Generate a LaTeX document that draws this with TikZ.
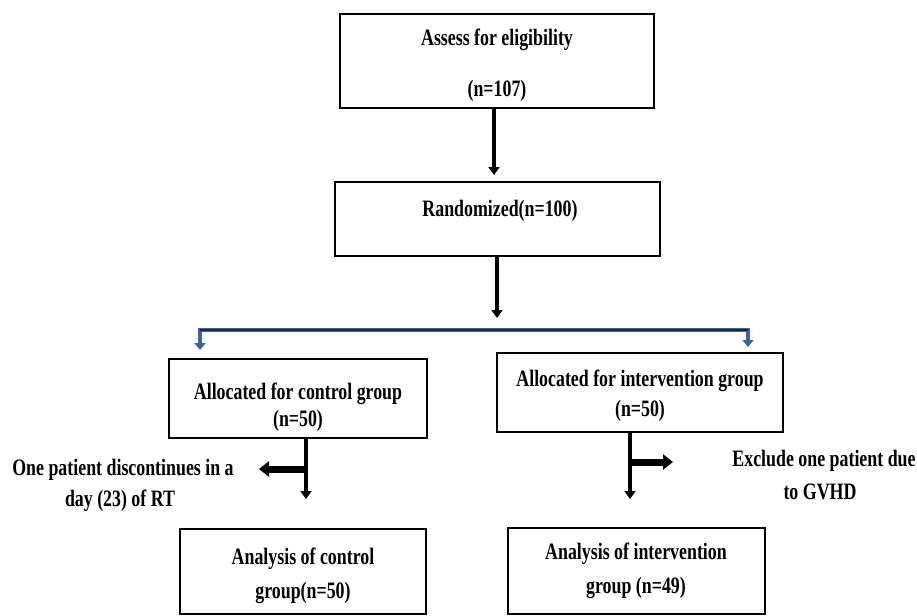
\documentclass[tikz,border=0pt]{standalone}
\usepackage{fontspec}
\setmainfont[FakeStretch=0.76]{Liberation Serif}
\usetikzlibrary{arrows.meta}
\definecolor{splitnavy}{RGB}{26,40,72}
\definecolor{splitblue}{RGB}{62,100,160}
\begin{document}
\begin{tikzpicture}[x=1pt,y=-1pt,
  box/.style={draw,line width=2pt,inner sep=0pt},
  txt/.style={font=\fontsize{23.5}{27}\selectfont\bfseries,inner sep=0pt,text height=16pt,text depth=4pt},
  flow/.style={line width=3.5pt,-{Triangle[width=11pt,length=8pt]}},
  side/.style={line width=7pt,-{Triangle[width=15pt,length=10pt]}},
  split/.style={line width=4.5pt,line join=miter,draw=splitblue,
    {Triangle[width=11pt,length=7pt,color=splitblue]}-{Triangle[width=11pt,length=7pt,color=splitblue]}}]
\useasboundingbox (0,0) rectangle (917,615);
% boxes
\node[box,minimum width=314pt,minimum height=94pt] (assess) at (497,61) {};
\node[box,minimum width=325pt,minimum height=74pt] (rand) at (497.5,219) {};
\node[box,minimum width=258pt,minimum height=79pt] (ctrl) at (298,398.5) {};
\node[box,minimum width=286pt,minimum height=79pt] (intv) at (640,392.5) {};
\node[box,minimum width=246pt,minimum height=85pt] (ctrlan) at (303,571.5) {};
\node[box,minimum width=257pt,minimum height=86pt] (intvan) at (636.5,571) {};
% texts
\node[txt] (assess-a) at (497,40) {Assess for eligibility};
\node[txt] (assess-b) at (497,90) {(n=107)};
\node[txt] (rand-a) at (500,210) {Randomized(n=100)};
\node[txt] (ctrl-a) at (298,393) {Allocated for control group};
\node[txt] (ctrl-b) at (298,420) {(n=50)};
\node[txt] (intv-a) at (640,380) {Allocated for intervention group};
\node[txt] (intv-b) at (640,410) {(n=50)};
\node[txt] (lost-a) at (123,469) {One patient discontinues in a};
\node[txt] (lost-b) at (120,500) {day (23) of RT};
\node[txt] (excl-a) at (824,460) {Exclude one patient due};
\node[txt] (excl-b) at (820,493) {to GVHD};
\node[txt] (ctrlan-a) at (303,558) {Analysis of control};
\node[txt] (ctrlan-b) at (303,592) {group(n=50)};
\node[txt] (intvan-a) at (636,553) {Analysis of intervention};
\node[txt] (intvan-b) at (636,587) {group (n=49)};
% split
\coordinate (fork) at (497,330);
\coordinate (fl) at (200,330);
\coordinate (fr) at (748,330);
\coordinate (fla) at (200,350);
\coordinate (fra) at (748,347);
\coordinate (ctrlbr) at (306,469);
\coordinate (losttip) at (259,469);
\coordinate (intvbr) at (630,462);
\coordinate (excltip) at (673,462);
% arrows
\draw[flow] ([xshift=-3pt]assess.south) -- ([xshift=-3.5pt]rand.north) [shorten >=6pt];
\draw[flow,shorten >=12pt] ([xshift=-0.5pt]rand.south) -- (fork);
\draw[split] (fla) -- (fl) -- (fr) -- (fra);
\draw[splitnavy,line width=2.5pt] (fl) -- (fr);
\draw[flow,shorten >=29pt] ([xshift=8pt]ctrl.south) -- ([xshift=3pt]ctrlan.north);
\draw[side] (ctrlbr) -- (losttip);
\draw[flow,shorten >=28pt] ([xshift=-10pt]intv.south) -- ([xshift=-6.5pt]intvan.north);
\draw[side] (intvbr) -- (excltip);
\end{tikzpicture}
\end{document}
